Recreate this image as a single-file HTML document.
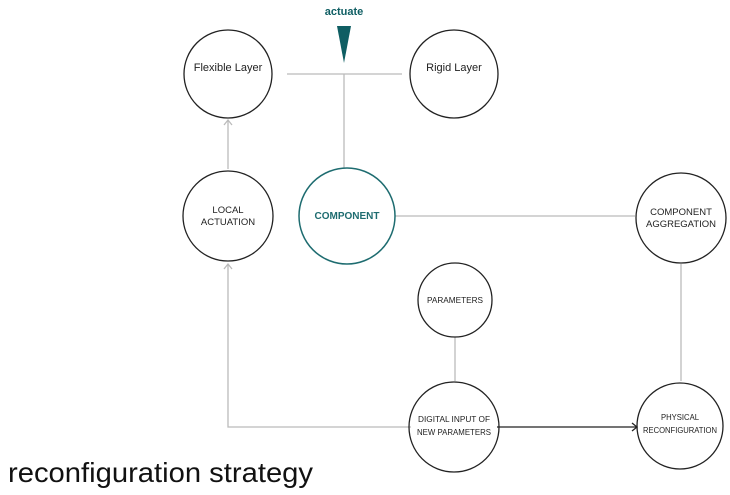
<!DOCTYPE html><html><head><style>body{margin:0;background:#fff}svg{display:block}text{font-family:"Liberation Sans",sans-serif;text-anchor:middle}</style></head><body>
<svg width="730" height="495" viewBox="0 0 730 495">
<g stroke="#bbb" stroke-width="1.3" fill="none">
<line x1="287" y1="74" x2="402" y2="74"/><line x1="344" y1="74" x2="344" y2="168"/>
<line x1="228" y1="169" x2="228" y2="120"/><polyline points="224,125 228,120 232,125"/>
<line x1="395" y1="216" x2="635" y2="216"/>
<line x1="455" y1="337" x2="455" y2="381"/>
<line x1="681" y1="264" x2="681" y2="381"/>
<polyline points="411,427 228,427 228,264"/><polyline points="224,269 228,264 232,269"/>
</g>
<g stroke="#222" stroke-width="1.3" fill="none">
<line x1="497" y1="427" x2="637" y2="427"/><polyline points="632,423 637,427 632,431"/>
<circle cx="228" cy="74" r="44"/><circle cx="454" cy="74" r="44"/>
<circle cx="228" cy="216" r="45"/><circle cx="681" cy="218" r="45"/>
<circle cx="455" cy="300" r="37"/><circle cx="454" cy="427" r="45"/><circle cx="680" cy="426" r="43"/>
</g>
<circle cx="347" cy="216" r="48" stroke="#1e6c70" stroke-width="1.5" fill="none"/>
<polygon points="337,26 351,26 344,63" fill="#0f5e63"/>
<text x="344" y="15" font-size="11" font-weight="bold" fill="#0f5e63">actuate</text>
<g font-size="11" fill="#222">
<text x="228" y="71">Flexible Layer</text><text x="454" y="71">Rigid Layer</text>
<g font-size="9.5"><text x="228" y="213">LOCAL</text><text x="228" y="225">ACTUATION</text>
<text x="681" y="215">COMPONENT</text><text x="681" y="227">AGGREGATION</text></g>
<g font-size="8.5"><text x="455" y="303" textLength="56" lengthAdjust="spacingAndGlyphs">PARAMETERS</text>
<text x="454" y="422" textLength="72" lengthAdjust="spacingAndGlyphs">DIGITAL INPUT OF</text><text x="454" y="435" textLength="74" lengthAdjust="spacingAndGlyphs">NEW PARAMETERS</text>
<text x="680" y="420" textLength="38" lengthAdjust="spacingAndGlyphs">PHYSICAL</text><text x="680" y="433" textLength="74" lengthAdjust="spacingAndGlyphs">RECONFIGURATION</text></g>
</g>
<text x="347" y="219" font-size="10" font-weight="bold" fill="#1e6c70">COMPONENT</text>
<text x="8" y="482" font-size="28" fill="#111" style="text-anchor:start" textLength="305" lengthAdjust="spacingAndGlyphs">reconfiguration strategy</text>
</svg></body></html>
